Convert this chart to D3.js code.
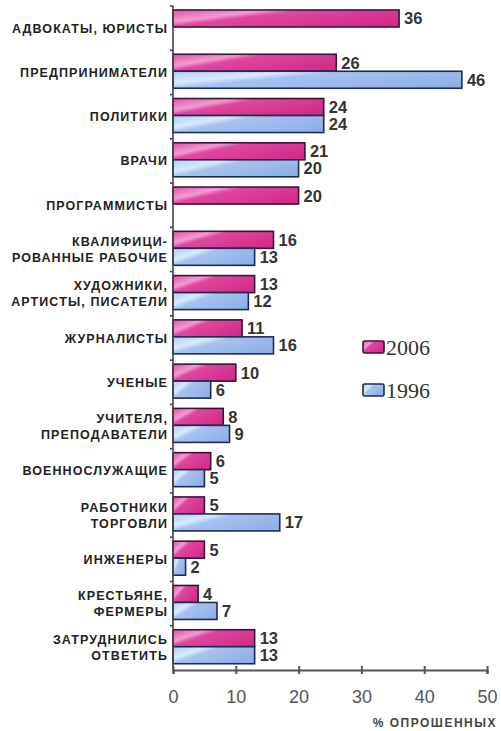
<!DOCTYPE html>
<html>
<head>
<meta charset="utf-8">
<script src="https://cdn.jsdelivr.net/npm/d3@7"></script>
<style>
  body { margin: 0; background: #fff; }
  svg { display: block; }
  .cat { font-family: "Liberation Sans", Arial, sans-serif; font-weight: bold; font-size: 12.5px; letter-spacing: 1.1px; fill: #222; }
  .val { font-family: "Liberation Sans", Arial, sans-serif; font-weight: bold; font-size: 16.5px; fill: #333; }
  .tick text { font-family: "Liberation Sans", Arial, sans-serif; font-size: 18px; fill: #555; }
  .leg { font-family: "Liberation Serif", "Times New Roman", serif; font-size: 22px; fill: #333; }
</style>
</head>
<body>
<svg id="chart" width="501" height="731"></svg>
<script>
// categories top to bottom, "|" marks a line break
let categories = [
    "АДВОКАТЫ, ЮРИСТЫ",
    "ПРЕДПРИНИМАТЕЛИ",
    "ПОЛИТИКИ",
    "ВРАЧИ",
    "ПРОГРАММИСТЫ",
    "КВАЛИФИЦИ-|РОВАННЫЕ РАБОЧИЕ",
    "ХУДОЖНИКИ,|АРТИСТЫ, ПИСАТЕЛИ",
    "ЖУРНАЛИСТЫ",
    "УЧЕНЫЕ",
    "УЧИТЕЛЯ,|ПРЕПОДАВАТЕЛИ",
    "ВОЕННОСЛУЖАЩИЕ",
    "РАБОТНИКИ|ТОРГОВЛИ",
    "ИНЖЕНЕРЫ",
    "КРЕСТЬЯНЕ,|ФЕРМЕРЫ",
    "ЗАТРУДНИЛИСЬ|ОТВЕТИТЬ"
];
let values2006 = [36, 26, 24, 21, 20, 16, 13, 11, 10, 8, 6, 5, 5, 4, 13];
let values1996 = [null, 46, 24, 20, null, 13, 12, 16, 6, 9, 5, 17, 2, 7, 13];
let seriesNames = ["2006", "1996"];
let xTicks = [0, 10, 20, 30, 40, 50];
let xTitle = "% ОПРОШЕННЫХ";

let svg = d3.select("#chart");

let x = d3.scaleLinear().domain([0, 50]).range([173, 487]);
let y = d3.scaleBand().domain(categories).range([6, 670]);
let barH = 17;

// gradients for the glossy bars
let defs = svg.append("defs");
function addGrad(id, stops) {
    let g = defs.append("linearGradient")
        .attr("id", id)
        .attr("x1", 0).attr("y1", 0.2)
        .attr("x2", 1).attr("y2", 0.8);
    stops.forEach((s) => g.append("stop").attr("offset", s[0]).attr("stop-color", s[1]));
}
addGrad("pink", [[0, "#e567b2"], [0.22, "#f29bd0"], [0.34, "#e0479f"], [1, "#d02a88"]]);
addGrad("blue", [[0, "#b9d6f5"], [0.22, "#d8eafb"], [0.36, "#a6c3ef"], [1, "#8eaee6"]]);

let fills = ["url(#pink)", "url(#blue)"];
let strokes = ["#3a1438", "#1f2c52"];

let rows = [];
categories.forEach((c, i) => {
    [values2006[i], values1996[i]].forEach((v, s) => {
        if (v !== null) rows.push({cat: c, value: v, series: s});
    });
});

// bars
svg.append("g").selectAll("rect")
    .data(rows)
    .enter().append("rect")
    .attr("x", x(0))
    .attr("y", (d) => y(d.cat) + 4 + d.series * barH)
    .attr("width", (d) => x(d.value) - x(0))
    .attr("height", barH)
    .attr("fill", (d) => fills[d.series])
    .attr("stroke", (d) => strokes[d.series])
    .attr("stroke-width", 1.6);

// value labels
svg.append("g").selectAll("text")
    .data(rows)
    .enter().append("text")
    .attr("class", "val")
    .attr("x", (d) => x(d.value) + 5)
    .attr("y", (d) => y(d.cat) + 4 + d.series * barH + barH / 2)
    .attr("dy", "0.36em")
    .text((d) => d.value);

// category labels
let catG = svg.append("g");
categories.forEach((c) => {
    let lines = c.split("|");
    let cy = y(c) + y.bandwidth() / 2;
    let t = catG.append("text")
        .attr("class", "cat")
        .attr("text-anchor", "end")
        .attr("x", 168);
    lines.forEach((ln, k) => {
        t.append("tspan")
            .attr("x", 168)
            .attr("y", cy + (k - (lines.length - 1) / 2) * 16)
            .attr("dy", "0.36em")
            .text(ln);
    });
});

// y axis line with small ticks at group borders
let yAxis = svg.append("g");
yAxis.append("line")
    .attr("x1", x(0)).attr("x2", x(0))
    .attr("y1", y.range()[0]).attr("y2", y.range()[1])
    .attr("stroke", "#444").attr("stroke-width", 1.6);
yAxis.selectAll(".yt")
    .data(categories)
    .enter().append("line")
    .attr("x1", x(0) - 3).attr("x2", x(0))
    .attr("y1", (d) => y(d)).attr("y2", (d) => y(d))
    .attr("stroke", "#444").attr("stroke-width", 1.6);

// x axis
let xAxis = svg.append("g")
    .attr("transform", "translate(0," + y.range()[1] + ")")
    .call(d3.axisBottom(x).tickValues(xTicks).tickSize(4).tickPadding(16));
xAxis.select(".domain").attr("stroke", "#555").attr("stroke-width", 2.2);
xAxis.selectAll(".tick line").attr("stroke", "#555").attr("stroke-width", 2)
    .attr("y1", -4).attr("y2", 4);

svg.append("text")
    .attr("x", 497)
    .attr("y", 723)
    .attr("dy", "0.36em")
    .attr("text-anchor", "end")
    .style("font-family", "'Liberation Sans', Arial, sans-serif")
    .style("font-weight", "bold")
    .style("font-size", "12px")
    .style("letter-spacing", "1.5px")
    .style("fill", "#444")
    .text(xTitle);

// legend
let legend = svg.append("g");
seriesNames.forEach((name, i) => {
    let ly = 347 + i * 43;
    legend.append("rect")
        .attr("x", 363).attr("y", ly - 6)
        .attr("width", 21).attr("height", 12)
        .attr("rx", 1.5)
        .attr("fill", fills[i])
        .attr("stroke", strokes[i])
        .attr("stroke-width", 1.6);
    legend.append("text")
        .attr("class", "leg")
        .attr("x", 386)
        .attr("y", ly)
        .attr("dy", "0.35em")
        .text(name);
});
</script>
</body>
</html>
